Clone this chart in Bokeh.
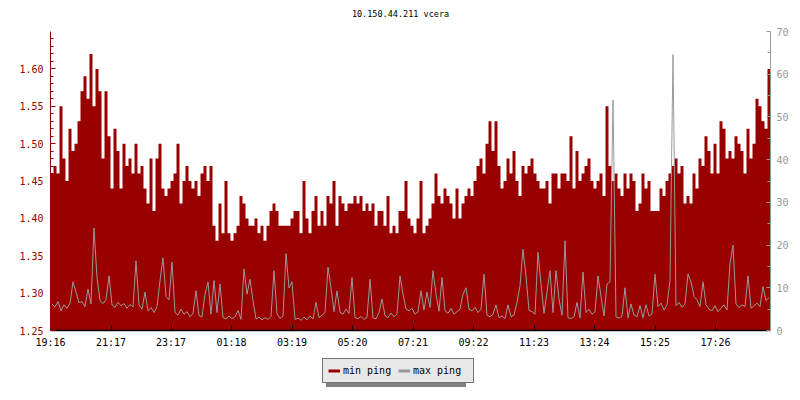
from bokeh.plotting import figure
from bokeh.layouts import column
from bokeh.models import (Range1d, LinearAxis, SingleIntervalTicker, FixedTicker,
                          Legend, LegendItem, PrintfTickFormatter, Label)
from bokeh.embed import file_html
from bokeh.resources import INLINE

title_text = "10.150.44.211 vcera"
start_label = "19:16"
step_minutes = 6
tick_labels = ["19:16", "21:17", "23:17", "01:18", "03:19", "05:20",
               "07:21", "09:22", "11:23", "13:24", "15:25", "17:26"]
series_labels = ["min ping", "max ping"]

# min ping (left axis), one value per 6 minutes
min_ping = [
    1.46, 1.47, 1.46, 1.55, 1.48, 1.45, 1.52, 1.49, 1.50, 1.53,
    1.57, 1.59, 1.56, 1.62, 1.55, 1.60, 1.57, 1.48, 1.57, 1.51,
    1.44, 1.52, 1.49, 1.44, 1.50, 1.47, 1.48, 1.46, 1.50, 1.46,
    1.47, 1.44, 1.42, 1.48, 1.41, 1.48, 1.50, 1.44, 1.43, 1.44,
    1.45, 1.46, 1.50, 1.42, 1.45, 1.47, 1.45, 1.44, 1.45, 1.43,
    1.46, 1.47, 1.45, 1.47, 1.39, 1.37, 1.42, 1.38, 1.45, 1.38,
    1.37, 1.38, 1.39, 1.43, 1.42, 1.40, 1.39, 1.39, 1.40, 1.38,
    1.39, 1.37, 1.39, 1.41, 1.42, 1.41, 1.39, 1.39, 1.39, 1.39,
    1.40, 1.41, 1.41, 1.38, 1.45, 1.40, 1.38, 1.41, 1.43, 1.39,
    1.41, 1.39, 1.43, 1.42, 1.45, 1.39, 1.43, 1.42, 1.41, 1.42,
    1.42, 1.43, 1.42, 1.43, 1.41, 1.42, 1.41, 1.42, 1.39, 1.41,
    1.41, 1.39, 1.43, 1.38, 1.39, 1.38, 1.41, 1.41, 1.45, 1.40,
    1.39, 1.38, 1.40, 1.45, 1.38, 1.39, 1.40, 1.42, 1.46, 1.43,
    1.42, 1.44, 1.43, 1.42, 1.40, 1.44, 1.40, 1.42, 1.43, 1.44,
    1.43, 1.45, 1.47, 1.48, 1.46, 1.50, 1.53, 1.49, 1.53, 1.47,
    1.44, 1.45, 1.48, 1.46, 1.49, 1.45, 1.43, 1.47, 1.46, 1.47,
    1.48, 1.46, 1.45, 1.44, 1.44, 1.45, 1.42, 1.46, 1.46, 1.44,
    1.46, 1.46, 1.45, 1.51, 1.44, 1.49, 1.45, 1.46, 1.47, 1.48,
    1.45, 1.44, 1.45, 1.46, 1.43, 1.55, 1.47, 1.45, 1.46, 1.44,
    1.43, 1.46, 1.44, 1.46, 1.45, 1.41, 1.42, 1.46, 1.44, 1.45,
    1.41, 1.41, 1.41, 1.44, 1.43, 1.45, 1.46, 1.47, 1.48, 1.46,
    1.47, 1.42, 1.43, 1.42, 1.46, 1.44, 1.48, 1.47, 1.51, 1.49,
    1.46, 1.50, 1.46, 1.53, 1.52, 1.48, 1.49, 1.48, 1.51, 1.50,
    1.49, 1.46, 1.52, 1.48, 1.50, 1.56, 1.55, 1.53, 1.52, 1.60,
]

# max ping (right axis), one value per 6 minutes
max_ping = [
    6.2, 5.5, 6.8, 4.6, 6.0, 5.2, 6.4, 11.4, 9.0, 6.5,
    6.8, 5.6, 9.7, 6.2, 24.0, 12.4, 7.0, 6.3, 7.2, 12.8,
    6.0, 5.4, 6.6, 5.8, 6.3, 5.2, 6.1, 5.5, 16.3, 6.0,
    5.0, 9.0, 4.6, 5.4, 4.2, 5.6, 11.7, 17.0, 8.0, 7.2,
    16.0, 4.2, 3.6, 5.0, 3.8, 4.4, 3.2, 4.0, 9.3, 3.5,
    3.2, 8.5, 11.3, 3.8, 11.7, 4.2, 10.9, 3.0, 2.7, 3.4,
    2.8, 3.2, 4.7, 2.6, 14.4, 8.5, 12.0, 7.0, 2.7, 3.1,
    2.5, 3.0, 2.6, 3.3, 14.0, 3.9, 2.8, 3.4, 18.0, 10.0,
    11.4, 2.6, 2.9, 2.4, 3.1, 2.5, 3.4, 2.7, 6.6, 3.0,
    3.6, 4.2, 14.8, 10.0, 4.4, 9.3, 4.3, 3.8, 5.0, 4.0,
    12.4, 3.0, 2.8, 3.3, 2.6, 3.1, 12.0, 3.0, 2.7, 4.2,
    7.4, 3.5, 3.0, 4.1, 3.2, 3.8, 12.8, 8.5, 5.0, 4.6,
    5.2, 3.8, 4.4, 9.3, 4.8, 9.0, 5.4, 14.0, 8.5, 4.5,
    12.4, 4.6, 4.0, 5.2, 3.8, 4.4, 5.0, 8.5, 10.0, 5.0,
    4.6, 5.4, 4.2, 5.0, 13.2, 3.6, 3.2, 3.8, 6.0, 3.0,
    3.4, 2.8, 6.0, 3.2, 3.6, 6.6, 10.5, 19.0, 12.8, 4.7,
    4.4, 3.8, 18.3, 10.9, 4.0, 9.0, 14.0, 4.2, 14.0, 7.4,
    3.6, 21.0, 3.0, 2.8, 3.2, 6.6, 2.9, 13.7, 4.2, 5.0,
    3.8, 4.4, 12.8, 8.0, 3.4, 10.9, 11.4, 54.0, 3.2, 2.9,
    3.4, 10.0, 3.0, 6.2, 3.6, 3.2, 5.8, 3.0, 6.0, 3.4,
    3.8, 13.2, 5.6, 6.4, 4.8, 6.0, 11.7, 64.6, 5.8, 6.6,
    5.4, 6.2, 13.2, 11.4, 8.0, 7.2, 5.6, 11.4, 6.0, 5.0,
    4.6, 5.8, 4.4, 5.2, 6.0, 4.8, 15.6, 20.0, 6.2, 5.4,
    6.0, 5.6, 12.8, 5.2, 5.8, 6.4, 5.6, 10.3, 7.0, 7.7,
]

FONT = "DejaVu Sans Mono"
RED = "#990000"
GRAY = "#999999"


def minutes_from_start(label):
    h, m = map(int, label.split(":"))
    sh, sm = map(int, start_label.split(":"))
    return ((h * 60 + m) - (sh * 60 + sm)) % 1440


tick_pos = [minutes_from_start(t) for t in tick_labels]
n = len(min_ping)
xs = [i * step_minutes for i in range(n + 1)]
y_min = min_ping + [min_ping[-1]]
x_mid = [(i + 0.5) * step_minutes for i in range(n)]


def strip(height):
    f = figure(frame_width=720, frame_height=height, output_backend="svg",
               toolbar_location=None,
               x_range=Range1d(50, 770), y_range=Range1d(0, height),
               x_axis_type=None, y_axis_type=None,
               min_border_left=50, min_border_right=30, min_border_top=0,
               min_border_bottom=0)
    f.outline_line_color = None
    f.grid.visible = False
    f.background_fill_color = "white"
    f.border_fill_color = "white"
    return f


# title strip
head = strip(22)
head.add_layout(Label(x=400, y=9, text=title_text, text_align="center",
                      text_baseline="middle", text_font=FONT,
                      text_font_size="8.5px", text_color="black"))

p = figure(frame_width=720, frame_height=299, output_backend="svg",
           toolbar_location=None,
           x_range=Range1d(0, n * step_minutes), y_range=Range1d(1.25, 1.65),
           min_border_left=50, min_border_right=30, min_border_top=9,
           min_border_bottom=20, x_axis_type=None, y_axis_type=None)
p.outline_line_color = None
p.background_fill_color = "white"
p.border_fill_color = "white"

p.extra_y_ranges = {"max": Range1d(0, 70)}

# left axis
left = LinearAxis(ticker=SingleIntervalTicker(interval=0.05, num_minor_ticks=5),
                  formatter=PrintfTickFormatter(format="%.2f"))
left.axis_line_color = RED
left.major_tick_line_color = RED
left.minor_tick_line_color = RED
left.major_tick_in = 5
left.major_tick_out = 0
left.minor_tick_in = 3
left.minor_tick_out = 0
left.major_label_text_color = RED
left.major_label_text_font = FONT
left.major_label_text_font_size = "10px"
left.major_label_standoff = 7
p.add_layout(left, "left")

# right axis
right = LinearAxis(y_range_name="max",
                   ticker=SingleIntervalTicker(interval=10, num_minor_ticks=2))
right.axis_line_color = GRAY
right.major_tick_line_color = GRAY
right.minor_tick_line_color = GRAY
right.major_tick_in = 4
right.major_tick_out = 0
right.minor_tick_in = 3
right.minor_tick_out = 0
right.major_label_text_color = GRAY
right.major_label_text_font = FONT
right.major_label_text_font_size = "10px"
right.major_label_standoff = 6
p.add_layout(right, "right")

# bottom axis
bottom = LinearAxis(ticker=FixedTicker(ticks=tick_pos, minor_ticks=[]))
bottom.major_label_overrides = {pos: lab for pos, lab in zip(tick_pos, tick_labels)}
bottom.axis_line_color = "black"
bottom.axis_line_width = 1.5
bottom.major_tick_line_color = "black"
bottom.major_tick_in = 5
bottom.major_tick_out = 0
bottom.minor_tick_line_color = None
bottom.major_label_text_font = FONT
bottom.major_label_text_font_size = "10px"
bottom.major_label_text_color = "black"
bottom.major_label_standoff = 6
p.add_layout(bottom, "below")

p.ygrid.ticker = left.ticker
p.ygrid.grid_line_color = "#c0c0c0"
p.ygrid.grid_line_width = 1

p.varea_step(x=xs, y1=[1.25] * len(xs), y2=y_min, step_mode="after",
             fill_color=RED, fill_alpha=1.0)
p.line(x=x_mid, y=max_ping, line_color=GRAY, line_width=1,
       y_range_name="max")

# legend strip below the chart
leg_fig = strip(50)
# swatch renderers kept outside the visible range; only their legend glyphs show
sw_min = leg_fig.line(x=[-100, -90], y=[-100, -100], line_color=RED, line_width=3)
sw_max = leg_fig.line(x=[-100, -90], y=[-100, -100], line_color=GRAY, line_width=3)


def make_legend(loc, bg, border, text_color):
    lg = Legend(items=[LegendItem(label=series_labels[0], renderers=[sw_min]),
                       LegendItem(label=series_labels[1], renderers=[sw_max])],
                orientation="horizontal", location=loc)
    lg.margin = 0
    lg.padding = 5
    lg.spacing = 0
    lg.glyph_width = 12
    lg.glyph_height = 13
    lg.label_height = 13
    lg.label_width = 55
    lg.label_standoff = 3
    lg.label_text_font = FONT
    lg.label_text_font_size = "10px"
    lg.label_text_color = text_color
    lg.background_fill_color = bg
    lg.background_fill_alpha = 1.0
    lg.border_line_color = border
    lg.border_line_width = 1
    lg.click_policy = "none"
    return lg


leg_fig.add_layout(make_legend((276, 13), "#808080", None, "#808080"), "center")
leg_fig.add_layout(make_legend((272, 17), "#e8e8e8", "black", "black"), "center")

layout = column(head, p, leg_fig, spacing=0)
open("out.html", "w").write(file_html(layout, INLINE))
